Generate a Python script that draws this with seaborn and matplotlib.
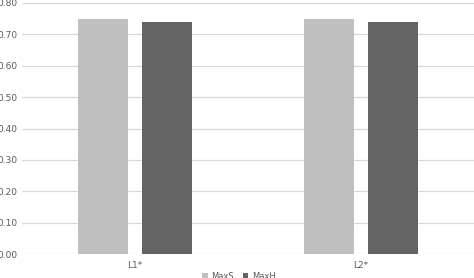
import matplotlib
matplotlib.use("Agg")
import matplotlib.pyplot as plt
import seaborn as sns
import pandas as pd

categories = ["L1*", "L2*"]
series = ["MaxS", "MaxH"]
maxs_values = [0.75, 0.75]
maxh_values = [0.74, 0.74]
yticks = [0.0, 0.1, 0.2, 0.3, 0.4, 0.5, 0.6, 0.7, 0.8]

df = pd.DataFrame({
    "cat": categories * 2,
    "series": [series[0]] * len(categories) + [series[1]] * len(categories),
    "value": maxs_values + maxh_values,
})

sns.set_theme(style="white")
plt.rcParams["font.family"] = ["DejaVu Sans"]

fig = plt.figure(figsize=(4.74, 2.78), dpi=100)
ax = fig.add_axes([22 / 474, 24 / 278, 1 - 22 / 474, 251 / 278])

sns.barplot(data=df, x="cat", y="value", hue="series", hue_order=series,
            palette=["#bfbfbf", "#646464"], width=0.566, gap=0.22,
            saturation=1, ax=ax, errorbar=None, legend=True, linewidth=0)

ax.set_ylim(0, 0.8)
ax.set_xlim(-0.5, 1.5)
ax.set_yticks(yticks)
ax.set_yticklabels([f"{v:.2f}" for v in yticks], color="#595959", fontsize=6.5)
ax.tick_params(axis="y", length=0, pad=3)
ax.tick_params(axis="x", length=0, pad=5, labelsize=6.5, labelcolor="#595959")
ax.yaxis.grid(True, color="#d9d9d9", linewidth=0.9)
ax.set_axisbelow(True)
for s in ax.spines.values():
    s.set_visible(False)
ax.set_xlabel("")
ax.set_ylabel("")

leg = ax.legend(loc="upper center", bbox_to_anchor=(0.48, -0.055), ncol=2,
                frameon=False, fontsize=6, handlelength=0.7, handleheight=0.7,
                handletextpad=0.4, columnspacing=1.0, borderpad=0)
for t in leg.get_texts():
    t.set_color("#595959")

fig.savefig("out.png", dpi=100)
